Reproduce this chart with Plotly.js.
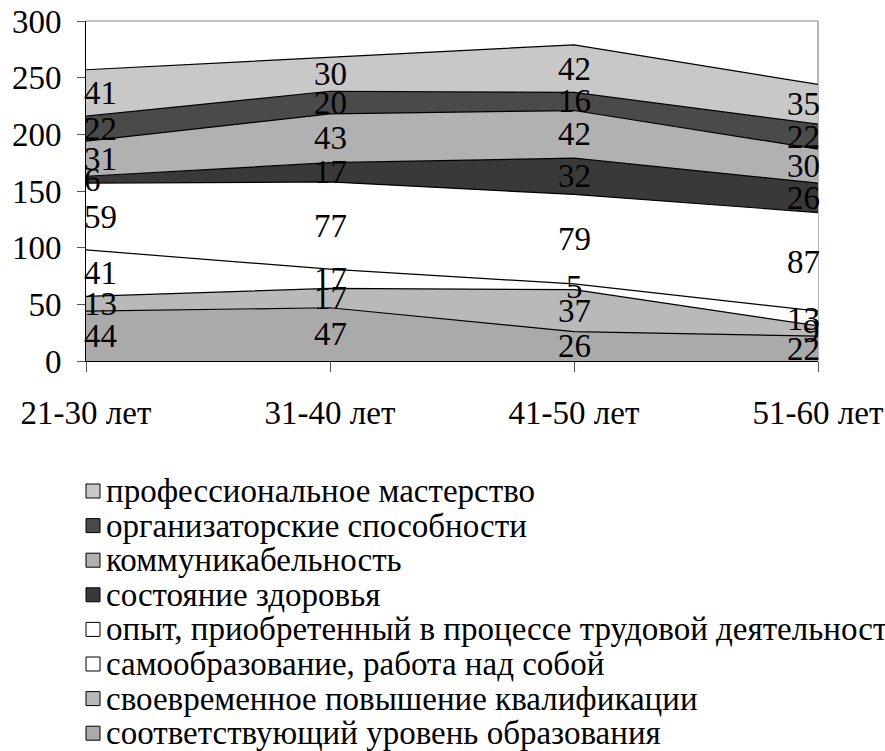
<!DOCTYPE html>
<html><head><meta charset="utf-8">
<script src="https://cdn.plot.ly/plotly-3.0.1.min.js"></script>
<style>html,body{margin:0;padding:0;background:#fff;overflow:hidden}#chart{width:885px;height:751px}</style>
</head><body><div id="chart"></div>
<script>
const categories = ["21-30 лет", "31-40 лет", "41-50 лет", "51-60 лет"];
// series listed bottom to top of the stack
const seriesNames = [
  "соответствующий уровень образования",
  "своевременное повышение квалификации",
  "самообразование, работа над собой",
  "опыт, приобретенный в процессе трудовой деятельности",
  "состояние здоровья",
  "коммуникабельность",
  "организаторские способности",
  "профессиональное мастерство"
];
const obrazovanie = [44, 47, 26, 22];
const kvalifikacia = [13, 17, 37, 9];
const samoobrazovanie = [41, 17, 5, 13];
const opyt = [59, 77, 79, 87];
const zdorovie = [6, 17, 32, 26];
const kommunikabelnost = [31, 43, 42, 30];
const organizatorskie = [22, 20, 16, 22];
const masterstvo = [41, 30, 42, 35];
const seriesValues = [obrazovanie, kvalifikacia, samoobrazovanie, opyt, zdorovie, kommunikabelnost, organizatorskie, masterstvo];
const seriesColors = ["#aaaaaa", "#b9b9b9", "#ffffff", "#ffffff", "#393939", "#b1b1b1", "#4a4a4a", "#c8c8c8"];
const yTicks = [0, 50, 100, 150, 200, 250, 300];

const FONT = "Liberation Serif";
const FS = 33;
const W = 885, H = 751, ML = 86, MR = 67, MT = 21, MB = 390;
const PW = W - ML - MR, PH = H - MT - MB;
const px2x = (px) => (px - ML) / PW;
const px2y = (py) => (H - MB - py) / PH;

const traces = [];
seriesValues.forEach((vals, i) => {
  traces.push({
    type: "scatter", mode: "lines", x: categories, y: vals,
    stackgroup: "one", fill: "tonexty", fillcolor: seriesColors[i],
    line: {color: "#000", width: 1.2, shape: "linear"},
    name: seriesNames[i], showlegend: false, hoverinfo: "skip"
  });
});

// data labels at the middle of each stacked band
const annotations = [];
const cum = categories.map(() => 0);
seriesValues.forEach((vals) => {
  vals.forEach((v, j) => {
    const mid = cum[j] + v / 2;
    cum[j] += v;
    annotations.push({
      x: categories[j], y: mid, xref: "x", yref: "y", text: String(v), showarrow: false,
      xanchor: j === 0 ? "left" : (j === categories.length - 1 ? "right" : "center"),
      xshift: j === 0 ? -4 : (j === categories.length - 1 ? 4 : 0),
      yanchor: "middle",
      font: {family: FONT, size: FS, color: "#000"}
    });
  });
});

// legend drawn as swatches + text, top series first
const shapes = [
  {type: "line", xref: "paper", yref: "paper", x0: 0, x1: 1, y0: 1, y1: 1, line: {color: "#888", width: 1.2}},
  {type: "line", xref: "paper", yref: "paper", x0: 1, x1: 1, y0: 0, y1: 1, line: {color: "#888", width: 1.2}, layer: "below"}
];
for (let k = 0; k < seriesNames.length; k++) {
  const i = seriesNames.length - 1 - k;
  const cy = 491 + 34.6 * k;
  shapes.push({type: "rect", xref: "paper", yref: "paper",
    x0: px2x(86), x1: px2x(100), y0: px2y(cy - 7), y1: px2y(cy + 7),
    fillcolor: seriesColors[i], line: {color: "#000", width: 1}});
  annotations.push({xref: "paper", yref: "paper", x: px2x(104), y: px2y(cy),
    xanchor: "left", yanchor: "middle", showarrow: false, text: seriesNames[i],
    font: {family: FONT, size: FS, color: "#000"}});
}

const layout = {
  width: W, height: H,
  margin: {l: ML, r: MR, t: MT, b: MB, autoexpand: false},
  paper_bgcolor: "#fff", plot_bgcolor: "#fff",
  font: {family: FONT, size: FS, color: "#000"},
  showlegend: false,
  xaxis: {
    type: "category", range: [0, categories.length - 1], automargin: false,
    showgrid: false, zeroline: false,
    showline: true, linecolor: "#000", linewidth: 1,
    ticks: "outside", ticklen: 10, tickcolor: "#555", tickwidth: 1,
    ticklabelstandoff: 12,
    tickfont: {family: FONT, size: FS, color: "#000"}
  },
  yaxis: {
    range: [0, 300], tickvals: yTicks, ticktext: yTicks.map(String), automargin: false,
    showgrid: false, zeroline: false,
    showline: true, linecolor: "#000", linewidth: 1,
    ticks: "outside", ticklen: 8, tickcolor: "#555", tickwidth: 1,
    ticklabelstandoff: 9,
    tickfont: {family: FONT, size: FS, color: "#000"}
  },
  shapes: shapes,
  annotations: annotations
};
Plotly.newPlot("chart", traces, layout, {displayModeBar: false, staticPlot: true});
</script></body></html>
